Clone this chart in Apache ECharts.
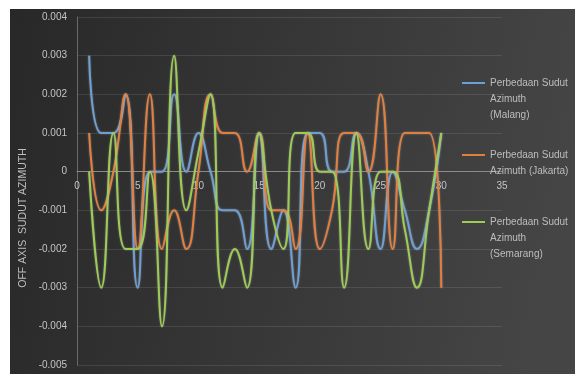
<!DOCTYPE html>
<html><head><meta charset="utf-8">
<script src="https://cdn.jsdelivr.net/npm/echarts@6/dist/echarts.min.js"></script>
<style>html,body{margin:0;padding:0;background:#fff}#c{width:575px;height:374px}</style>
</head><body><div id="c"></div>
<script>
const days = [1,2,3,4,5,6,7,8,9,10,11,12,13,14,15,16,17,18,19,20,21,22,23,24,25,26,27,28,29,30];
const malang = [0.003,0.001,0.001,0.002,-0.003,0,0,0.002,0,0.001,0,-0.001,-0.001,-0.002,0.001,-0.002,-0.001,-0.003,0.001,0.001,0,0,0.001,0,-0.002,0,-0.001,-0.002,-0.001,0.001];
const jakarta = [0.001,-0.001,0,0.002,-0.002,0.002,-0.002,-0.001,-0.002,0,0.002,0.001,0.001,0,0.001,-0.001,-0.001,-0.002,0.001,-0.002,-0.001,0.001,0.001,0,0.002,-0.002,0.001,0.001,0.001,-0.003];
const semarang = [0,-0.003,0.001,-0.002,-0.002,0,-0.004,0.003,-0.001,0.0005,0.002,-0.003,-0.002,-0.003,0.001,-0.001,-0.002,0.001,0.001,0,0,-0.003,0.001,-0.002,0,0,-0.0015,-0.003,-0.001,0.001];
const seriesNames = ['Perbedaan Sudut Azimuth (Malang)','Perbedaan Sudut Azimuth (Jakarta)','Perbedaan Sudut Azimuth (Semarang)'];
const legendTexts = ['\n\nPerbedaan Sudut\nAzimuth\n(Malang)','\nPerbedaan Sudut\nAzimuth (Jakarta)','\n\nPerbedaan Sudut\nAzimuth\n(Semarang)'];
const yAxisTitle = 'OFF AXIS  SUDUT AZIMUTH';
const colors = ['#6c9fd4','#e47e3c','#9dcc52'];

const chart = echarts.init(document.getElementById('c'), null, {renderer:'canvas'});
const F = 'Liberation Sans, Arial, sans-serif';
const pairs = arr => days.map((d,i)=>[d, arr[i]]);
const gridTop = 17, gridH = 348;
const zeroOffset = -(gridH * 5 / 9);
const LH = 16;
const legendTops = [83 - 2.5*LH, 155 - 1.5*LH, 222 - 2.5*LH];
const option = {
  backgroundColor: '#ffffff',
  animation: false,
  graphic: [
    {type:'rect', left:10, top:9, z:-10, shape:{width:565, height:365},
     style:{fill:new echarts.graphic.LinearGradient(0,0,1,0.3,[{offset:0,color:'#282828'},{offset:1,color:'#454545'}])}},
    {type:'text', x:23, y:218, rotation:Math.PI/2, z:10,
     style:{text:yAxisTitle, fill:'#bdbdbd', font:'10.5px '+F, align:'center', verticalAlign:'middle'}}
  ],
  grid: {left:77, top:gridTop, width:425, height:gridH, containLabel:false},
  legend: seriesNames.map((n,i)=>({
    data:[n], left:462, top:legendTops[i], orient:'vertical', padding:0,
    icon:'rect', itemWidth:23, itemHeight:2, selectedMode:false,
    formatter: ()=>legendTexts[i],
    textStyle:{color:'#bdbdbd', fontSize:10, fontFamily:F, lineHeight:LH}
  })),
  xAxis: {
    type:'value', min:0, max:35, interval:5, position:'bottom', offset:zeroOffset,
    axisLine:{onZero:false, lineStyle:{color:'#8a8a8a', width:1}},
    axisTick:{show:false},
    axisLabel:{color:'#c4c4c4', fontSize:10, fontFamily:F, margin:10},
    splitLine:{show:false}
  },
  yAxis: {
    type:'value', min:-0.005, max:0.004, interval:0.001,
    axisLine:{show:true, onZero:false, lineStyle:{color:'#6a6a6a'}},
    axisTick:{show:false},
    axisLabel:{color:'#c4c4c4', fontSize:10, fontFamily:F, margin:10,
      formatter:v=>Math.abs(v)<1e-9?'0':v.toFixed(3)},
    splitLine:{show:true, lineStyle:{color:'rgba(255,255,255,0.10)', width:1}}
  },
  series: [malang, jakarta, semarang].map((arr,i)=>({
    name: seriesNames[i], type:'line', data: pairs(arr), smooth:0.5, showSymbol:false,
    lineStyle:{color:colors[i], width:2, shadowColor:'rgba(255,255,255,0.35)', shadowBlur:2},
    itemStyle:{color:colors[i]}
  }))
};
chart.setOption(option);
</script></body></html>
